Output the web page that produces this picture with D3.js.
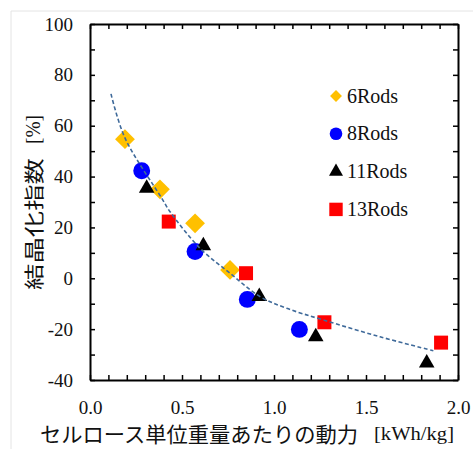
<!DOCTYPE html>
<html>
<head>
<meta charset="utf-8">
<script src="https://cdn.jsdelivr.net/npm/d3@7"></script>
<style>
  body { margin: 0; background: #fff; }
  svg { display: block; }
</style>
</head>
<body>
<div id="chart"></div>
<script>
// series: [x kWh/kg, y %]
const rods6 = [[0.19, 54.7], [0.38, 35.0], [0.571, 21.6], [0.761, 3.3]];
const rods8 = [[0.281, 42.3], [0.571, 10.5], [0.855, -8.3], [1.138, -20.1]];
const rods11 = [[0.308, 35.4], [0.616, 12.8], [0.92, -7.2], [1.227, -23.0], [1.83, -33.3]];
const rods13 = [[0.428, 22.3], [0.848, 2.0], [1.274, -17.3], [1.908, -25.3]];
// dashed trend line, points traced along it
const trend = [[0.114, 72.5], [0.19, 55.2], [0.39, 31.5], [0.435, 26.2], [0.598, 11.8], [0.761, 2.0],
  [0.924, -7.2], [1.069, -11.8], [1.268, -16.4], [1.576, -23.0], [1.866, -28.5]];
const seriesNames = ['6Rods', '8Rods', '11Rods', '13Rods'];
const xTicks = [0, 0.5, 1.0, 1.5, 2.0];
const yTicks = [-40, -20, 0, 20, 40, 60, 80, 100];

const SERIF = "'Liberation Serif', 'DejaVu Serif', serif";
const CJK = "'Noto Sans CJK JP', sans-serif";

const W = 473, H = 449;
const M = { left: 90, right: 15, top: 24, bottom: 69 };

const svg = d3.select('#chart').append('svg').attr('width', W).attr('height', H);

// faint frame of the original picture
svg.append('path').attr('d', `M11,${H} V11 H${W}`).attr('fill', 'none').attr('stroke', '#e4e4e4').attr('stroke-width', 1);

const x = d3.scaleLinear().domain([0, 2]).range([M.left, W - M.right]);
const y = d3.scaleLinear().domain([-40, 100]).range([H - M.bottom, M.top]);

const styles = {
  '6Rods': { data: rods6, color: '#FFC000', sym: d3.symbolDiamond2, size: 250, lsize: 90 },
  '8Rods': { data: rods8, color: '#0000FF', sym: d3.symbolCircle, size: 225, lsize: 125 },
  '11Rods': { data: rods11, color: '#000000', sym: d3.symbolTriangle, size: 105, lsize: 85 },
  '13Rods': { data: rods13, color: '#FF0000', sym: d3.symbolSquare, size: 196, lsize: 180 },
};

const minorX = d3.range(0, 2.0001, 0.1);
const minorY = d3.range(-40, 100.001, 10);

function axisLine(g) {
  g.select('.domain').attr('stroke', '#000').attr('stroke-width', 2);
  g.selectAll('.tick line').attr('stroke', '#000').attr('stroke-width', 1.5);
}
function labelFont(g) {
  g.attr('font-family', null).attr('font-size', null);
  g.selectAll('text').attr('fill', '#111').style('font-family', SERIF).style('font-size', '19px');
}

// bottom
svg.append('g').attr('transform', `translate(0,${y(-40)})`)
  .call(d3.axisBottom(x).tickValues(minorX).tickSizeInner(-5).tickSizeOuter(0).tickFormat(''))
  .call(axisLine);
svg.append('g').attr('transform', `translate(0,${y(-40)})`)
  .call(d3.axisBottom(x).tickValues(xTicks).tickSize(0).tickPadding(21).tickFormat(d3.format('.1f')))
  .call(g => g.select('.domain').remove())
  .call(labelFont);
// top
svg.append('g').attr('transform', `translate(0,${y(100)})`)
  .call(d3.axisTop(x).tickValues(minorX).tickSizeInner(-5).tickSizeOuter(0).tickFormat(''))
  .call(axisLine);
// left
svg.append('g').attr('transform', `translate(${x(0)},0)`)
  .call(d3.axisLeft(y).tickValues(minorY).tickSizeInner(-5).tickSizeOuter(0).tickFormat(''))
  .call(axisLine);
svg.append('g').attr('transform', `translate(${x(0)},0)`)
  .call(d3.axisLeft(y).tickValues(yTicks).tickSize(0).tickPadding(17).tickFormat(d => String(d)))
  .call(g => g.select('.domain').remove())
  .call(labelFont);
// right
svg.append('g').attr('transform', `translate(${x(2)},0)`)
  .call(d3.axisRight(y).tickValues(minorY).tickSizeInner(-5).tickSizeOuter(0).tickFormat(''))
  .call(axisLine);

// markers
seriesNames.forEach(name => {
  const s = styles[name];
  svg.append('g').selectAll('path').data(s.data).join('path')
    .attr('transform', d => `translate(${x(d[0])},${y(d[1])})`)
    .attr('d', d3.symbol().type(s.sym).size(s.size))
    .attr('fill', s.color);
});

// trend line on top
svg.append('path').datum(trend)
  .attr('d', d3.line().x(d => x(d[0])).y(d => y(d[1])).curve(d3.curveCatmullRom))
  .attr('fill', 'none').attr('stroke', '#3f6a9a').attr('stroke-width', 1.6)
  .attr('stroke-dasharray', '4,2.5');

// legend
const leg = svg.append('g');
seriesNames.forEach((name, i) => {
  const s = styles[name];
  const cy = 96 + i * 37.8;
  leg.append('path').attr('transform', `translate(336,${cy})`)
    .attr('d', d3.symbol().type(s.sym).size(s.lsize)).attr('fill', s.color);
  leg.append('text').attr('x', 347).attr('y', cy + 6.5)
    .style('font-family', SERIF).style('font-size', '20px').attr('fill', '#111')
    .text(name);
});

// axis titles
svg.append('text').attr('x', 40).attr('y', 433).attr('dominant-baseline', 'central').attr('fill', '#111')
  .style('font-family', CJK).style('font-size', '21px')
  .attr('textLength', 318).attr('lengthAdjust', 'spacingAndGlyphs')
  .text('セルロース単位重量あたりの動力');
svg.append('text').attr('x', 374).attr('y', 440).attr('fill', '#111')
  .style('font-family', SERIF).style('font-size', '19px')
  .attr('textLength', 80).attr('lengthAdjust', 'spacingAndGlyphs')
  .text('[kWh/kg]');

const yt = svg.append('g').attr('transform', 'translate(33,0) rotate(-90)');
yt.append('text').attr('x', -290).attr('y', 0).attr('dominant-baseline', 'central').attr('fill', '#111')
  .style('font-family', CJK).style('font-size', '20px')
  .attr('textLength', 132).attr('lengthAdjust', 'spacingAndGlyphs')
  .text('結晶化指数');
yt.append('text').attr('x', -144).attr('y', 7).attr('fill', '#111')
  .style('font-family', SERIF).style('font-size', '20px')
  .attr('textLength', 29).attr('lengthAdjust', 'spacingAndGlyphs')
  .text('[%]');
</script>
</body>
</html>
